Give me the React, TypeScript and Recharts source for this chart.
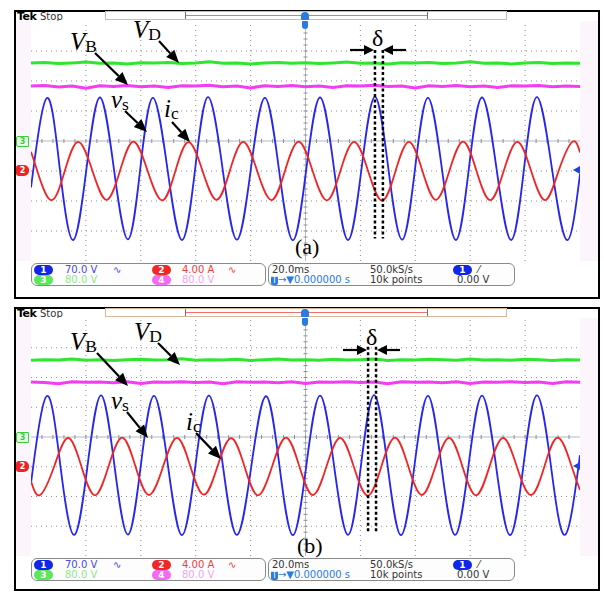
import React from "react";
import { LineChart, Line, XAxis, YAxis, ReferenceLine } from "recharts";

// scope screen: 10 div x 20 ms horizontally, 8 div vertically (values in divisions, 0 = centre)
const TIME_DIVS = [0, 20, 40, 60, 80, 100, 120, 140, 160, 180, 200];
const VOLT_DIVS = [-4, -3, -2, -1, 0, 1, 2, 3, 4];
const MINOR_T = Array.from({ length: 51 }, (_, i) => i * 4);
const MINOR_V = Array.from({ length: 41 }, (_, i) => -4 + i * 0.2);
const SAMPLE_T = Array.from({ length: 41 }, (_, i) => i * 5);

// ---- panel (a) ----
const BLUE_A: [number, number][] = [
  [0, -1.55], [5.8, 1.43], [10.5, -0.93], [15.3, -3.3], [20.2, -0.93], [25.1, 1.45], [30.2, -0.93],
  [35.3, -3.28], [39.8, -0.93], [44.4, 1.44], [49.7, -0.93], [55.0, -3.3], [59.8, -0.93], [64.5, 1.46],
  [69.8, -0.93], [75.0, -3.29], [80.1, -0.93], [85.2, 1.44], [90.3, -0.93], [95.4, -3.31], [100.3, -0.93],
  [105.3, 1.45], [110.4, -0.93], [115.5, -3.3], [120.4, -0.93], [125.3, 1.47], [130.2, -0.93], [135.2, -3.29],
  [139.9, -0.93], [144.6, 1.44], [149.7, -0.93], [154.8, -3.3], [159.5, -0.93], [164.3, 1.45], [169.6, -0.93],
  [174.9, -3.3], [179.6, -0.93], [184.3, 1.46], [189.8, -0.93], [195.3, -3.3], [200, -1.1],
];
const RED_A: [number, number][] = [
  [0, -0.36], [2.3, -1.0], [7.3, -1.97], [12.3, -1.0], [17.2, -0.03], [22.4, -1.0], [27.5, -1.96],
  [32.4, -1.0], [37.3, -0.02], [42.5, -1.0], [47.8, -1.98], [52.6, -1.0], [57.4, -0.04], [62.5, -1.0],
  [67.6, -1.96], [72.4, -1.0], [77.3, -0.03], [82.4, -1.0], [87.6, -1.97], [92.5, -1.0], [97.5, -0.02],
  [102.6, -1.0], [107.8, -1.98], [112.7, -1.0], [117.7, -0.03], [122.8, -1.0], [127.9, -1.99], [132.8, -1.0],
  [137.7, -0.03], [142.6, -1.0], [147.5, -1.96], [152.4, -1.0], [157.4, -0.02], [162.3, -1.0], [167.3, -1.97],
  [172.2, -1.0], [177.2, -0.03], [182.2, -1.0], [187.3, -1.97], [192.2, -1.0], [197.2, -0.03], [200, -0.38],
];
const GREEN_A = [
  2.6, 2.62, 2.58, 2.6, 2.63, 2.59, 2.6, 2.57, 2.61, 2.6, 2.62, 2.58, 2.6, 2.64, 2.59, 2.6, 2.57, 2.6, 2.62, 2.59, 2.61,
  2.58, 2.6, 2.63, 2.59, 2.6, 2.57, 2.61, 2.6, 2.62, 2.58, 2.6, 2.64, 2.59, 2.6, 2.57, 2.6, 2.62, 2.58, 2.6, 2.59,
];
const MAGENTA_A = [
  1.83, 1.85, 1.8, 1.83, 1.76, 1.84, 1.82, 1.85, 1.81, 1.83, 1.78, 1.84, 1.83, 1.86, 1.81, 1.83, 1.77, 1.84, 1.82, 1.85, 1.81,
  1.83, 1.78, 1.84, 1.83, 1.86, 1.82, 1.83, 1.77, 1.84, 1.82, 1.85, 1.81, 1.83, 1.78, 1.84, 1.83, 1.85, 1.81, 1.83, 1.82,
];
const DELTA_A = [125.3, 128.2];

// ---- panel (b) ----
const BLUE_B: [number, number][] = [
  [0, -1.55], [5.8, 1.38], [10.7, -0.96], [15.7, -3.29], [20.6, -0.96], [25.5, 1.4], [30.4, -0.96],
  [35.3, -3.28], [40.0, -0.96], [44.8, 1.38], [49.9, -0.96], [55.0, -3.3], [59.9, -0.96], [64.8, 1.39],
  [69.9, -0.96], [75.0, -3.29], [80.3, -0.96], [85.6, 1.37], [90.5, -0.96], [95.4, -3.3], [100.3, -0.96],
  [105.3, 1.39], [110.4, -0.96], [115.5, -3.29], [120.2, -0.96], [125.0, 1.41], [129.9, -0.96], [134.8, -3.3],
  [139.7, -0.96], [144.6, 1.38], [149.5, -0.96], [154.5, -3.29], [159.4, -0.96], [164.3, 1.39], [169.4, -0.96],
  [174.5, -3.3], [179.4, -0.96], [184.3, 1.4], [189.4, -0.96], [194.5, -3.29], [200, -0.61],
];
const RED_B: [number, number][] = [
  [0, -1.49], [3.3, -1.95], [8.4, -1.0], [13.5, -0.03], [18.4, -1.0], [23.3, -1.96], [28.2, -1.0],
  [33.2, -0.02], [38.1, -1.0], [43.0, -1.95], [48.1, -1.0], [53.2, -0.03], [58.1, -1.0], [63.0, -1.94],
  [67.9, -1.0], [72.9, -0.04], [77.8, -1.0], [82.7, -1.96], [87.8, -1.0], [92.9, -0.02], [97.8, -1.0],
  [102.7, -1.95], [107.6, -1.0], [112.6, -0.03], [117.6, -1.0], [122.7, -1.97], [127.6, -1.0], [132.6, -0.02],
  [137.5, -1.0], [142.4, -1.95], [147.3, -1.0], [152.3, -0.03], [157.2, -1.0], [162.1, -1.96], [167.0, -1.0],
  [172.0, -0.03], [177.0, -1.0], [182.1, -1.95], [187.0, -1.0], [192.0, -0.02], [197.0, -1.0], [200, -1.78],
];
const GREEN_B = [
  2.58, 2.6, 2.59, 2.62, 2.58, 2.6, 2.57, 2.6, 2.61, 2.59, 2.6, 2.63, 2.58, 2.6, 2.59, 2.61, 2.57, 2.6, 2.62, 2.59, 2.6,
  2.58, 2.61, 2.59, 2.6, 2.62, 2.57, 2.6, 2.59, 2.61, 2.6, 2.58, 2.62, 2.59, 2.6, 2.58, 2.61, 2.6, 2.57, 2.6, 2.59,
];
const MAGENTA_B = [
  1.85, 1.83, 1.79, 1.86, 1.84, 1.85, 1.82, 1.86, 1.8, 1.85, 1.84, 1.86, 1.83, 1.85, 1.79, 1.86, 1.84, 1.85, 1.82, 1.86, 1.8,
  1.85, 1.84, 1.86, 1.83, 1.85, 1.79, 1.86, 1.84, 1.85, 1.82, 1.86, 1.8, 1.85, 1.84, 1.86, 1.83, 1.85, 1.8, 1.86, 1.84,
];
const DELTA_B = [122.8, 125.7];

// status bar texts
const CH_SCALES = ["70.0 V", "4.00 A", "80.0 V", "80.0 V"];
const TIMEBASE = ["20.0ms", "50.0kS/s", "10k points", "0.00 V", "0.000000 s"];

const TAN = "#d9b899";
const GRIDC = "#8e8e9a";
const toPts = (p: [number, number][]) => p.map(([t, v]) => ({ t, v }));
const toFlat = (vals: number[]) => vals.map((v, i) => ({ t: SAMPLE_T[i], v }));
const noTick = () => <g />;

function CenterLine(props: any) {
  const { x1, y1, x2, y2, n } = props;
  const ticks = [];
  for (let i = 1; i < n; i++) {
    const x = x1 + ((x2 - x1) * i) / n;
    const y = y1 + ((y2 - y1) * i) / n;
    ticks.push(
      y1 === y2 ? (
        <line key={i} x1={x} x2={x} y1={y - 2} y2={y + 2} stroke={GRIDC} />
      ) : (
        <line key={i} x1={x - 2} x2={x + 2} y1={y} y2={y} stroke={GRIDC} />
      )
    );
  }
  return (
    <g>
      <line x1={x1} y1={y1} x2={x2} y2={y2} stroke="#b4b8c6" strokeWidth={1} />
      {ticks}
    </g>
  );
}

function Scope({ w, h, blue, red, green, magenta, delta, dTop, dBot }: any) {
  return (
    <LineChart width={w} height={h} margin={{ top: 0, right: 0, bottom: 0, left: 0 }} style={{ background: "#fff" }}>
      <XAxis xAxisId={0} type="number" dataKey="t" domain={[0, 200]} ticks={TIME_DIVS} height={0} tick={false} axisLine={false} tickLine={false} allowDataOverflow />
      <YAxis yAxisId={0} type="number" domain={[-4, 4]} ticks={VOLT_DIVS} width={0} tick={false} axisLine={false} tickLine={false} allowDataOverflow />
      <XAxis xAxisId="mb" orientation="bottom" mirror type="number" domain={[0, 200]} ticks={MINOR_T} height={0} tick={noTick} tickSize={3} axisLine={{ stroke: TAN, strokeWidth: 1.5 }} tickLine={{ stroke: GRIDC }} />
      <XAxis xAxisId="mt" orientation="top" mirror type="number" domain={[0, 200]} ticks={MINOR_T} height={0} tick={noTick} tickSize={3} axisLine={{ stroke: TAN, strokeWidth: 1.5 }} tickLine={{ stroke: GRIDC }} />
      <YAxis yAxisId="ml" orientation="left" mirror type="number" domain={[-4, 4]} ticks={MINOR_V} width={0} tick={noTick} tickSize={3} axisLine={{ stroke: TAN, strokeWidth: 1.5 }} tickLine={{ stroke: GRIDC }} />
      <YAxis yAxisId="mr" orientation="right" mirror type="number" domain={[-4, 4]} ticks={MINOR_V} width={0} tick={noTick} tickSize={3} axisLine={{ stroke: TAN, strokeWidth: 1.5 }} tickLine={{ stroke: GRIDC }} />
      {TIME_DIVS.slice(1, -1).filter((t) => t !== 100).map((t) => (
        <ReferenceLine key={"gx" + t} x={t} stroke={GRIDC} strokeDasharray="1 4" />
      ))}
      {VOLT_DIVS.slice(1, -1).filter((v) => v !== 0).map((v) => (
        <ReferenceLine key={"gy" + v} y={v} stroke={GRIDC} strokeDasharray="1 4" />
      ))}
      <ReferenceLine x={100} stroke={GRIDC} shape={(p: any) => <CenterLine {...p} n={40} />} />
      <ReferenceLine y={0} stroke={GRIDC} shape={(p: any) => <CenterLine {...p} n={50} />} />
      <Line data={toFlat(green)} dataKey="v" type="linear" stroke="#2ee62e" strokeWidth={3} dot={false} isAnimationActive={false} />
      <Line data={toFlat(magenta)} dataKey="v" type="linear" stroke="#f43cf4" strokeWidth={3} dot={false} isAnimationActive={false} />
      <Line data={toPts(blue)} dataKey="v" type="natural" stroke="#2626ee" strokeWidth={1.8} dot={false} isAnimationActive={false} />
      <Line data={toPts(red)} dataKey="v" type="natural" stroke="#f02626" strokeWidth={1.8} dot={false} isAnimationActive={false} />
      {delta.map((t: number) => (
        <ReferenceLine key={t} segment={[{ x: t, y: dTop }, { x: t, y: dBot }]} stroke="#000" strokeWidth={2.5} strokeDasharray="3 2.5" />
      ))}
    </LineChart>
  );
}

function Arrow({ x1, y1, x2, y2, head = 13, w = 5.5 }: any) {
  const dx = x2 - x1, dy = y2 - y1, L = Math.hypot(dx, dy);
  const ux = dx / L, uy = dy / L;
  const bx = x2 - ux * head, by = y2 - uy * head;
  return (
    <g>
      <line x1={x1} y1={y1} x2={bx} y2={by} stroke="#000" strokeWidth={2.2} />
      <polygon points={`${x2},${y2} ${bx - uy * w},${by + ux * w} ${bx + uy * w},${by - ux * w}`} fill="#000" />
    </g>
  );
}

function Sym({ x, y, main, sub, italic = true, size = 25 }: any) {
  return (
    <text x={x} y={y} fontFamily="'Liberation Serif', serif" fontSize={size} fill="#000">
      <tspan fontStyle={italic ? "italic" : "normal"}>{main}</tspan>
      {sub && (
        <tspan fontSize={size * 0.7} dy={2}>
          {sub}
        </tspan>
      )}
    </text>
  );
}

const mono: React.CSSProperties = { position: "absolute", fontFamily: "'DejaVu Sans', sans-serif", fontSize: 10, lineHeight: "11px", whiteSpace: "nowrap" };

function Pill({ x, y, bg, label, fg = "#fff" }: any) {
  return (
    <div style={{ position: "absolute", left: x, top: y, width: 19, height: 10, borderRadius: 5, background: bg, color: fg, fontFamily: "'DejaVu Sans', sans-serif", fontSize: 9, fontWeight: "bold", lineHeight: "10px", textAlign: "center" }}>
      {label}
    </div>
  );
}

function Panel({ top, h, gh, blue, red, green, magenta, delta }: any) {
  const gy = top + 11; // grid top
  const sy = gy + gh + 2; // status bar top
  const cy = gy + gh / 2;
  return (
    <>
      <div style={{ position: "absolute", left: 14, top, width: 586, height: h, boxSizing: "border-box", border: "2px solid #000", background: "#fff" }} />
      <div style={{ position: "absolute", left: 16, top: top + 11, width: 582, height: gh, background: "#fcf6fc" }} />
      <div style={{ ...mono, left: 17, top: top + 1, fontWeight: "bold", fontSize: 11, letterSpacing: -0.5 }}>Tek</div>
      <div style={{ ...mono, left: 40, top: top + 1, color: "#333" }}>Stop</div>
      <div style={{ position: "absolute", left: 105, top: top + 1, width: 402, height: 9, boxSizing: "border-box", border: `1px solid ${TAN}`, background: "#fff" }} />
      <div style={{ position: "absolute", left: 186, top: top + 5, width: 241, height: 1, background: "#f07070" }} />
      <div style={{ position: "absolute", left: 185, top: top + 2, width: 1, height: 7, background: "#6070a0" }} />
      <div style={{ position: "absolute", left: 427, top: top + 2, width: 1, height: 7, background: "#6070a0" }} />
      <div style={{ position: "absolute", left: 31, top: gy }}>
        <Scope w={549} h={gh} blue={blue} red={red} green={green} magenta={magenta} delta={delta} dTop={3.03} dBot={-3.25} />
      </div>
      {/* trigger position marker */}
      <div style={{ position: "absolute", left: 301, top: top + 2, width: 8, height: 8, borderRadius: "4px 4px 1px 1px", background: "#2a7be0" }} />
      <div style={{ position: "absolute", left: 302, top: top + 11, width: 6, height: 8, borderRadius: "1px 1px 4px 4px", background: "#2a7be0" }} />
      {/* channel markers */}
      <div style={{ position: "absolute", left: 16, top: cy - 5, width: 11, height: 9, border: "1px solid #3ccc3c", borderRadius: "2px 0 0 2px", background: "#e8fbe8", color: "#3ccc3c", fontFamily: "'DejaVu Sans', sans-serif", fontSize: 8, fontWeight: "bold", lineHeight: "9px", textAlign: "center" }}>3</div>
      <div style={{ position: "absolute", left: 16, top: cy + 24, width: 13, height: 11, borderRadius: "3px 5px 5px 3px", background: "#f02222", color: "#fff", fontFamily: "'DejaVu Sans', sans-serif", fontSize: 8, fontWeight: "bold", lineHeight: "11px", textAlign: "center" }}>2</div>
      <div style={{ position: "absolute", left: 573, top: cy + 25, width: 0, height: 0, borderTop: "4px solid transparent", borderBottom: "4px solid transparent", borderRight: "7px solid #2040e0" }} />
      {/* status bar */}
      <div style={{ position: "absolute", left: 31, top: sy, width: 235, height: 23, boxSizing: "border-box", border: "1.5px solid #8a8a8a", borderRadius: 6, background: "#fdfdfd" }} />
      <div style={{ position: "absolute", left: 268, top: sy, width: 247, height: 23, boxSizing: "border-box", border: "1.5px solid #8a8a8a", borderRadius: 6, background: "#fdfdfd" }} />
      <Pill x={34} y={sy + 2} bg="#1226e8" label="1" />
      <div style={{ ...mono, left: 65, top: sy + 1, color: "#4646f0" }}>{CH_SCALES[0]}</div>
      <div style={{ ...mono, left: 113, top: sy + 1, color: "#4646f0" }}>∿</div>
      <Pill x={152} y={sy + 2} bg="#f22626" label="2" />
      <div style={{ ...mono, left: 182, top: sy + 1, color: "#f23c3c" }}>{CH_SCALES[1]}</div>
      <div style={{ ...mono, left: 228, top: sy + 1, color: "#f23c3c" }}>∿</div>
      <Pill x={34} y={sy + 12} bg="#5ce65c" label="3" />
      <div style={{ ...mono, left: 65, top: sy + 11, color: "#8ee88e" }}>{CH_SCALES[2]}</div>
      <Pill x={152} y={sy + 12} bg="#f26af2" label="4" />
      <div style={{ ...mono, left: 182, top: sy + 11, color: "#f2a6f2" }}>{CH_SCALES[3]}</div>
      <div style={{ ...mono, left: 272, top: sy + 1, color: "#333" }}>{TIMEBASE[0]}</div>
      <div style={{ ...mono, left: 370, top: sy + 1, color: "#333" }}>{TIMEBASE[1]}</div>
      <Pill x={453} y={sy + 2} bg="#1226e8" label="1" />
      <div style={{ ...mono, left: 478, top: sy + 1, color: "#333" }}>⁄</div>
      <div style={{ ...mono, left: 271, top: sy + 11, color: "#2a7be0" }}>
        <span style={{ background: "#2a7be0", color: "#fff", borderRadius: 2, padding: "0 1px", fontSize: 8 }}>T</span>→▼{TIMEBASE[4]}
      </div>
      <div style={{ ...mono, left: 370, top: sy + 11, color: "#333" }}>{TIMEBASE[2]}</div>
      <div style={{ ...mono, left: 457, top: sy + 11, color: "#333" }}>{TIMEBASE[3]}</div>
    </>
  );
}

export default function App() {
  return (
    <div style={{ position: "absolute", left: 0, top: 0, width: 604, height: 594, background: "#fff", overflow: "hidden" }}>
      <Panel top={10} h={289} gh={240} blue={BLUE_A} red={RED_A} green={GREEN_A} magenta={MAGENTA_A} delta={DELTA_A} />
      <Panel top={307} h={284} gh={238} blue={BLUE_B} red={RED_B} green={GREEN_B} magenta={MAGENTA_B} delta={DELTA_B} />
      <svg width={604} height={594} style={{ position: "absolute", left: 0, top: 0, pointerEvents: "none" }}>
        {/* panel (a) annotations */}
        <Sym x={70} y={50} main="V" sub="B" />
        <Sym x={133} y={38} main="V" sub="D" />
        <Sym x={111} y={108} main="v" sub="s" />
        <Sym x={164} y={117} main="i" sub="c" />
        <Arrow x1={95} y1={53} x2={128} y2={85} />
        <Arrow x1={159} y1={41} x2={179} y2={63} />
        <Arrow x1={125} y1={111} x2={147} y2={132} />
        <Arrow x1={172} y1={122} x2={190} y2={142} />
        <Sym x={372} y={46} main="δ" italic={false} size={24} />
        <Arrow x1={350} y1={50} x2={374} y2={50} head={10} w={5} />
        <Arrow x1={406} y1={50} x2={383} y2={50} head={10} w={5} />
        <Sym x={295} y={254} main="(a)" italic={false} size={22} />
        {/* panel (b) annotations */}
        <Sym x={70} y={350} main="V" sub="B" />
        <Sym x={134} y={340} main="V" sub="D" />
        <Sym x={111} y={409} main="v" sub="s" />
        <Sym x={186} y={430} main="i" sub="c" />
        <Arrow x1={97} y1={353} x2={128} y2={386} />
        <Arrow x1={158} y1={343} x2={180} y2={365} />
        <Arrow x1={127} y1={412} x2={148} y2={438} />
        <Arrow x1={196} y1={433} x2={221} y2={459} />
        <Sym x={366} y={345} main="δ" italic={false} size={24} />
        <Arrow x1={343} y1={350} x2={367} y2={350} head={10} w={5} />
        <Arrow x1={400} y1={350} x2={377} y2={350} head={10} w={5} />
        <Sym x={297} y={553} main="(b)" italic={false} size={22} />
      </svg>
    </div>
  );
}
